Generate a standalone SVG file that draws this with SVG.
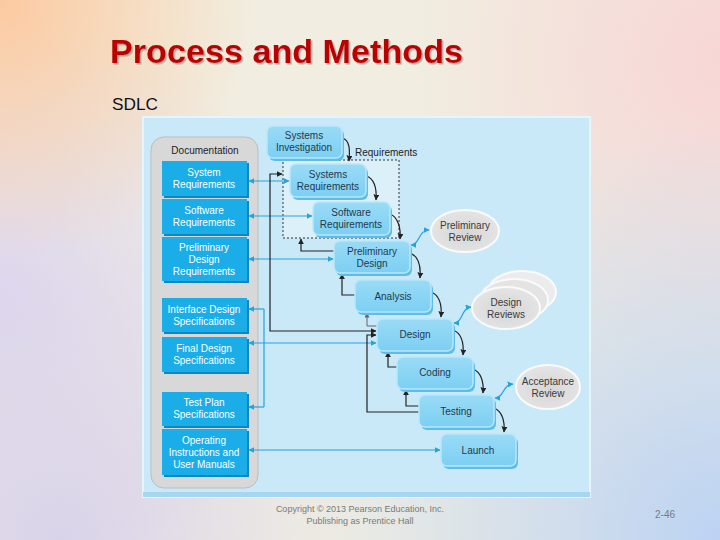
<svg xmlns="http://www.w3.org/2000/svg" width="720" height="540" viewBox="0 0 720 540">
<defs>
<radialGradient id="bgTL" cx="0" cy="0" r="260" gradientUnits="userSpaceOnUse"><stop offset="0" stop-color="#fccaa0"/><stop offset="1" stop-color="#fccaa0" stop-opacity="0"/></radialGradient>
<radialGradient id="bgL" cx="0" cy="300" r="300" gradientUnits="userSpaceOnUse"><stop offset="0" stop-color="#ddd6ee"/><stop offset="1" stop-color="#ddd6ee" stop-opacity="0"/></radialGradient>
<radialGradient id="bgTR" cx="720" cy="60" r="320" gradientUnits="userSpaceOnUse"><stop offset="0" stop-color="#f7d6d6"/><stop offset="1" stop-color="#f7d6d6" stop-opacity="0"/></radialGradient>
<radialGradient id="bgBR" cx="720" cy="540" r="420" gradientUnits="userSpaceOnUse"><stop offset="0" stop-color="#bcd3f3"/><stop offset="1" stop-color="#bcd3f3" stop-opacity="0"/></radialGradient>
<radialGradient id="bgBL" cx="60" cy="540" r="300" gradientUnits="userSpaceOnUse"><stop offset="0" stop-color="#d9d3ea"/><stop offset="1" stop-color="#d9d3ea" stop-opacity="0"/></radialGradient>
<linearGradient id="proc" x1="0" y1="0" x2="0" y2="1"><stop offset="0" stop-color="#9adbf6"/><stop offset="1" stop-color="#7ccff3"/></linearGradient>
<radialGradient id="ell" cx="0.5" cy="0.55" r="0.6"><stop offset="0" stop-color="#d6d6d6"/><stop offset="1" stop-color="#e6e6e6"/></radialGradient>
<filter id="tshadow" x="-5%" y="-20%" width="110%" height="150%"><feDropShadow dx="1.5" dy="1.5" stdDeviation="0.6" flood-color="#7a7a7a" flood-opacity="0.6"/></filter>
<marker id="ak" viewBox="0 0 10 10" refX="9" refY="5" markerWidth="5" markerHeight="5" orient="auto-start-reverse"><path d="M0,0 L10,5 L0,10 z" fill="#222"/></marker>
<marker id="ag" viewBox="0 0 10 10" refX="9" refY="5" markerWidth="5" markerHeight="5" orient="auto-start-reverse"><path d="M0,0 L10,5 L0,10 z" fill="#666"/></marker>
<marker id="at" viewBox="0 0 10 10" refX="9" refY="5" markerWidth="5" markerHeight="5" orient="auto-start-reverse"><path d="M0,0 L10,5 L0,10 z" fill="#27a3d9"/></marker>
<style>
.doc rect.sh{fill:#0b88bd}
.doc rect.fg{fill:#1badE8}
.doc text{font-family:"Liberation Sans",Arial,sans-serif;font-size:10px;fill:#fff;text-anchor:middle}
.proc rect.sh{fill:#5dbde8}
.proc rect.fg{fill:url(#proc);stroke:#b9e7fa;stroke-width:1.5}
.proc text{font-family:"Liberation Sans",Arial,sans-serif;font-size:10px;fill:#1f3a4d;text-anchor:middle}
.rev ellipse{fill:url(#ell);stroke:#fafafa;stroke-width:2}
.rev text{font-family:"Liberation Sans",Arial,sans-serif;font-size:10px;fill:#3a3a3a;text-anchor:middle}
.k{fill:none;stroke:#222;stroke-width:1.2}
.g{fill:none;stroke:#666;stroke-width:1}
.t{fill:none;stroke:#27a3d9;stroke-width:1.2}
.foot{font-family:"Liberation Sans",Arial,sans-serif;fill:#7a7a7a}
</style>
</defs>
<!-- slide background -->
<rect width="720" height="540" fill="#f1eee1"/>
<rect width="720" height="540" fill="url(#bgL)"/>
<rect width="720" height="540" fill="url(#bgBL)"/>
<rect width="720" height="540" fill="url(#bgTR)"/>
<rect width="720" height="540" fill="url(#bgBR)"/>
<rect width="720" height="540" fill="url(#bgTL)"/>
<!-- title -->
<text x="110" y="63" font-family="Liberation Sans,Arial,sans-serif" font-weight="bold" font-size="33" fill="#bb0000" filter="url(#tshadow)" textLength="353" lengthAdjust="spacingAndGlyphs">Process and Methods</text>
<text x="112" y="110" font-family="Liberation Sans,Arial,sans-serif" font-size="17" fill="#111" textLength="46" lengthAdjust="spacingAndGlyphs">SDLC</text>
<!-- panel -->
<rect x="143" y="117" width="447" height="380" fill="#c9e8f8" stroke="#e6f4fb" stroke-width="2"/>
<rect x="143" y="492" width="447" height="5" fill="#a5d8f0"/>
<!-- documentation column -->
<g id="documentation">
<rect x="151" y="137" width="107" height="351" rx="13" fill="#d8d8d8" stroke="#bdbdbd" stroke-width="1"/>
<text x="205" y="154" font-family="Liberation Sans,Arial,sans-serif" font-size="10" fill="#222" text-anchor="middle">Documentation</text>
</g>
<g id="doc-system-req" class="doc"><rect class="sh" x="164" y="163" width="85" height="35"/><rect class="fg" x="162" y="161" width="85" height="35"/><text x="204" y="176">System</text><text x="204" y="188">Requirements</text></g>
<g id="doc-software-req" class="doc"><rect class="sh" x="164" y="201" width="85" height="35"/><rect class="fg" x="162" y="199" width="85" height="35"/><text x="204" y="214">Software</text><text x="204" y="226">Requirements</text></g>
<g id="doc-prelim-design-req" class="doc"><rect class="sh" x="164" y="239" width="85" height="44"/><rect class="fg" x="162" y="237" width="85" height="44"/><text x="204" y="251">Preliminary</text><text x="204" y="263">Design</text><text x="204" y="275">Requirements</text></g>
<g id="doc-interface-spec" class="doc"><rect class="sh" x="164" y="300" width="85" height="34"/><rect class="fg" x="162" y="298" width="85" height="34"/><text x="204" y="313">Interface Design</text><text x="204" y="325">Specifications</text></g>
<g id="doc-final-spec" class="doc"><rect class="sh" x="164" y="339" width="85" height="35"/><rect class="fg" x="162" y="337" width="85" height="35"/><text x="204" y="352">Final Design</text><text x="204" y="364">Specifications</text></g>
<g id="doc-test-plan" class="doc"><rect class="sh" x="164" y="394" width="85" height="34"/><rect class="fg" x="162" y="392" width="85" height="34"/><text x="204" y="406">Test Plan</text><text x="204" y="418">Specifications</text></g>
<g id="doc-manuals" class="doc"><rect class="sh" x="164" y="431" width="85" height="46"/><rect class="fg" x="162" y="429" width="85" height="46"/><text x="204" y="444">Operating</text><text x="204" y="456">Instructions and</text><text x="204" y="468">User Manuals</text></g>
<!-- requirements dashed group -->
<g id="requirements-group">
<rect x="283" y="160" width="116" height="78" fill="#dcf0fa" stroke="#333" stroke-width="1" stroke-dasharray="2,2"/>
<text x="355" y="156" font-family="Liberation Sans,Arial,sans-serif" font-size="10" fill="#222">Requirements</text>
</g>
<!-- connectors -->
<g id="connectors">
<path class="k" d="M342,138 C350,140 350,150 349,161" marker-end="url(#ak)"/>
<path class="k" d="M366,176 C374,178 377,188 376,200" marker-end="url(#ak)"/>
<path class="k" d="M390,214 C398,217 401,228 400,239" marker-end="url(#ak)"/>
<path class="k" d="M410,253 C418,256 421,266 420,278" marker-end="url(#ak)"/>
<path class="k" d="M431,292 C439,295 442,305 441,317" marker-end="url(#ak)"/>
<path class="k" d="M453,330 C461,333 464,343 463,355" marker-end="url(#ak)"/>
<path class="k" d="M473,369 C481,372 484,382 483,393" marker-end="url(#ak)"/>
<path class="k" d="M494,408 C502,411 505,421 504,432" marker-end="url(#ak)"/>
<path class="t" d="M411,245 C420,245 418,230 429,230" marker-start="url(#at)" marker-end="url(#at)"/>
<path class="t" d="M454,323 C463,323 461,308 471,307" marker-start="url(#at)" marker-end="url(#at)"/>
<path class="t" d="M495,398 C504,398 502,385 513,384" marker-start="url(#at)" marker-end="url(#at)"/>
<path class="t" d="M249,181 H289" marker-start="url(#at)" marker-end="url(#at)"/>
<path class="t" d="M249,216 H312" marker-start="url(#at)" marker-end="url(#at)"/>
<path class="t" d="M249,259 H333" marker-start="url(#at)" marker-end="url(#at)"/>
<path class="t" d="M249,343 H376" marker-start="url(#at)" marker-end="url(#at)"/>
<path class="t" d="M249,450 H440" marker-start="url(#at)" marker-end="url(#at)"/>
<path class="t" d="M264,309 V407"/>
<path class="t" d="M264,309 H249" marker-end="url(#at)"/>
<path class="t" d="M264,407 H249" marker-end="url(#at)"/>
<path class="k" d="M376,331 H270 V174 H282" marker-start="url(#ak)" marker-end="url(#ak)"/>
<path class="k" d="M419,412 H367 V335 H376" marker-end="url(#ak)"/>
<path class="k" d="M334,251 H301 V239" marker-end="url(#ak)"/>
<path class="k" d="M355,295 H342 V274" marker-end="url(#ak)"/>
<path class="g" d="M377,326 H367 V313" marker-end="url(#ag)"/>
<path class="k" d="M397,367 H388 V352" marker-end="url(#ak)"/>
<path class="k" d="M419,406 H406 V390" marker-end="url(#ak)"/>
</g>
<!-- process boxes -->
<g id="systems-investigation" class="proc"><rect class="sh" x="269" y="129" width="75" height="32" rx="6"/><rect class="fg" x="267" y="126" width="75" height="32" rx="6"/><text x="304" y="139">Systems</text><text x="304" y="151">Investigation</text></g>
<g id="systems-requirements" class="proc"><rect class="sh" x="292" y="167" width="76" height="33" rx="6"/><rect class="fg" x="290" y="164" width="76" height="33" rx="6"/><text x="328" y="178">Systems</text><text x="328" y="190">Requirements</text></g>
<g id="software-requirements" class="proc"><rect class="sh" x="315" y="205" width="77" height="33" rx="6"/><rect class="fg" x="313" y="202" width="77" height="33" rx="6"/><text x="351" y="216">Software</text><text x="351" y="228">Requirements</text></g>
<g id="preliminary-design" class="proc"><rect class="sh" x="336" y="244" width="76" height="32" rx="6"/><rect class="fg" x="334" y="241" width="76" height="32" rx="6"/><text x="372" y="255">Preliminary</text><text x="372" y="267">Design</text></g>
<g id="analysis" class="proc"><rect class="sh" x="357" y="283" width="76" height="32" rx="6"/><rect class="fg" x="355" y="280" width="76" height="32" rx="6"/><text x="393" y="300">Analysis</text></g>
<g id="design" class="proc"><rect class="sh" x="379" y="322" width="76" height="32" rx="6"/><rect class="fg" x="377" y="319" width="76" height="32" rx="6"/><text x="415" y="338">Design</text></g>
<g id="coding" class="proc"><rect class="sh" x="399" y="360" width="76" height="32" rx="6"/><rect class="fg" x="397" y="357" width="76" height="32" rx="6"/><text x="435" y="376">Coding</text></g>
<g id="testing" class="proc"><rect class="sh" x="421" y="398" width="75" height="32" rx="6"/><rect class="fg" x="419" y="395" width="75" height="32" rx="6"/><text x="456" y="415">Testing</text></g>
<g id="launch" class="proc"><rect class="sh" x="443" y="437" width="75" height="32" rx="6"/><rect class="fg" x="441" y="434" width="75" height="32" rx="6"/><text x="478" y="454">Launch</text></g>
<!-- reviews -->
<g id="preliminary-review" class="rev"><ellipse cx="465" cy="231" rx="34" ry="21"/><text x="465" y="229">Preliminary</text><text x="465" y="241">Review</text></g>
<g id="design-reviews" class="rev"><ellipse cx="522" cy="292" rx="34" ry="21" style="fill:#ececec"/><ellipse cx="514" cy="300" rx="34" ry="21" style="fill:#e4e4e4"/><ellipse cx="506" cy="308" rx="34" ry="21"/><text x="506" y="306">Design</text><text x="506" y="318">Reviews</text></g>
<g id="acceptance-review" class="rev"><ellipse cx="548" cy="387" rx="32" ry="22"/><text x="548" y="385">Acceptance</text><text x="548" y="397">Review</text></g>
<!-- footer -->
<text class="foot" x="360" y="512" font-size="9" text-anchor="middle">Copyright © 2013 Pearson Education, Inc.</text>
<text class="foot" x="360" y="524" font-size="9" text-anchor="middle">Publishing as Prentice Hall</text>
<text class="foot" x="665" y="518" font-size="10" text-anchor="middle">2-46</text>
</svg>
